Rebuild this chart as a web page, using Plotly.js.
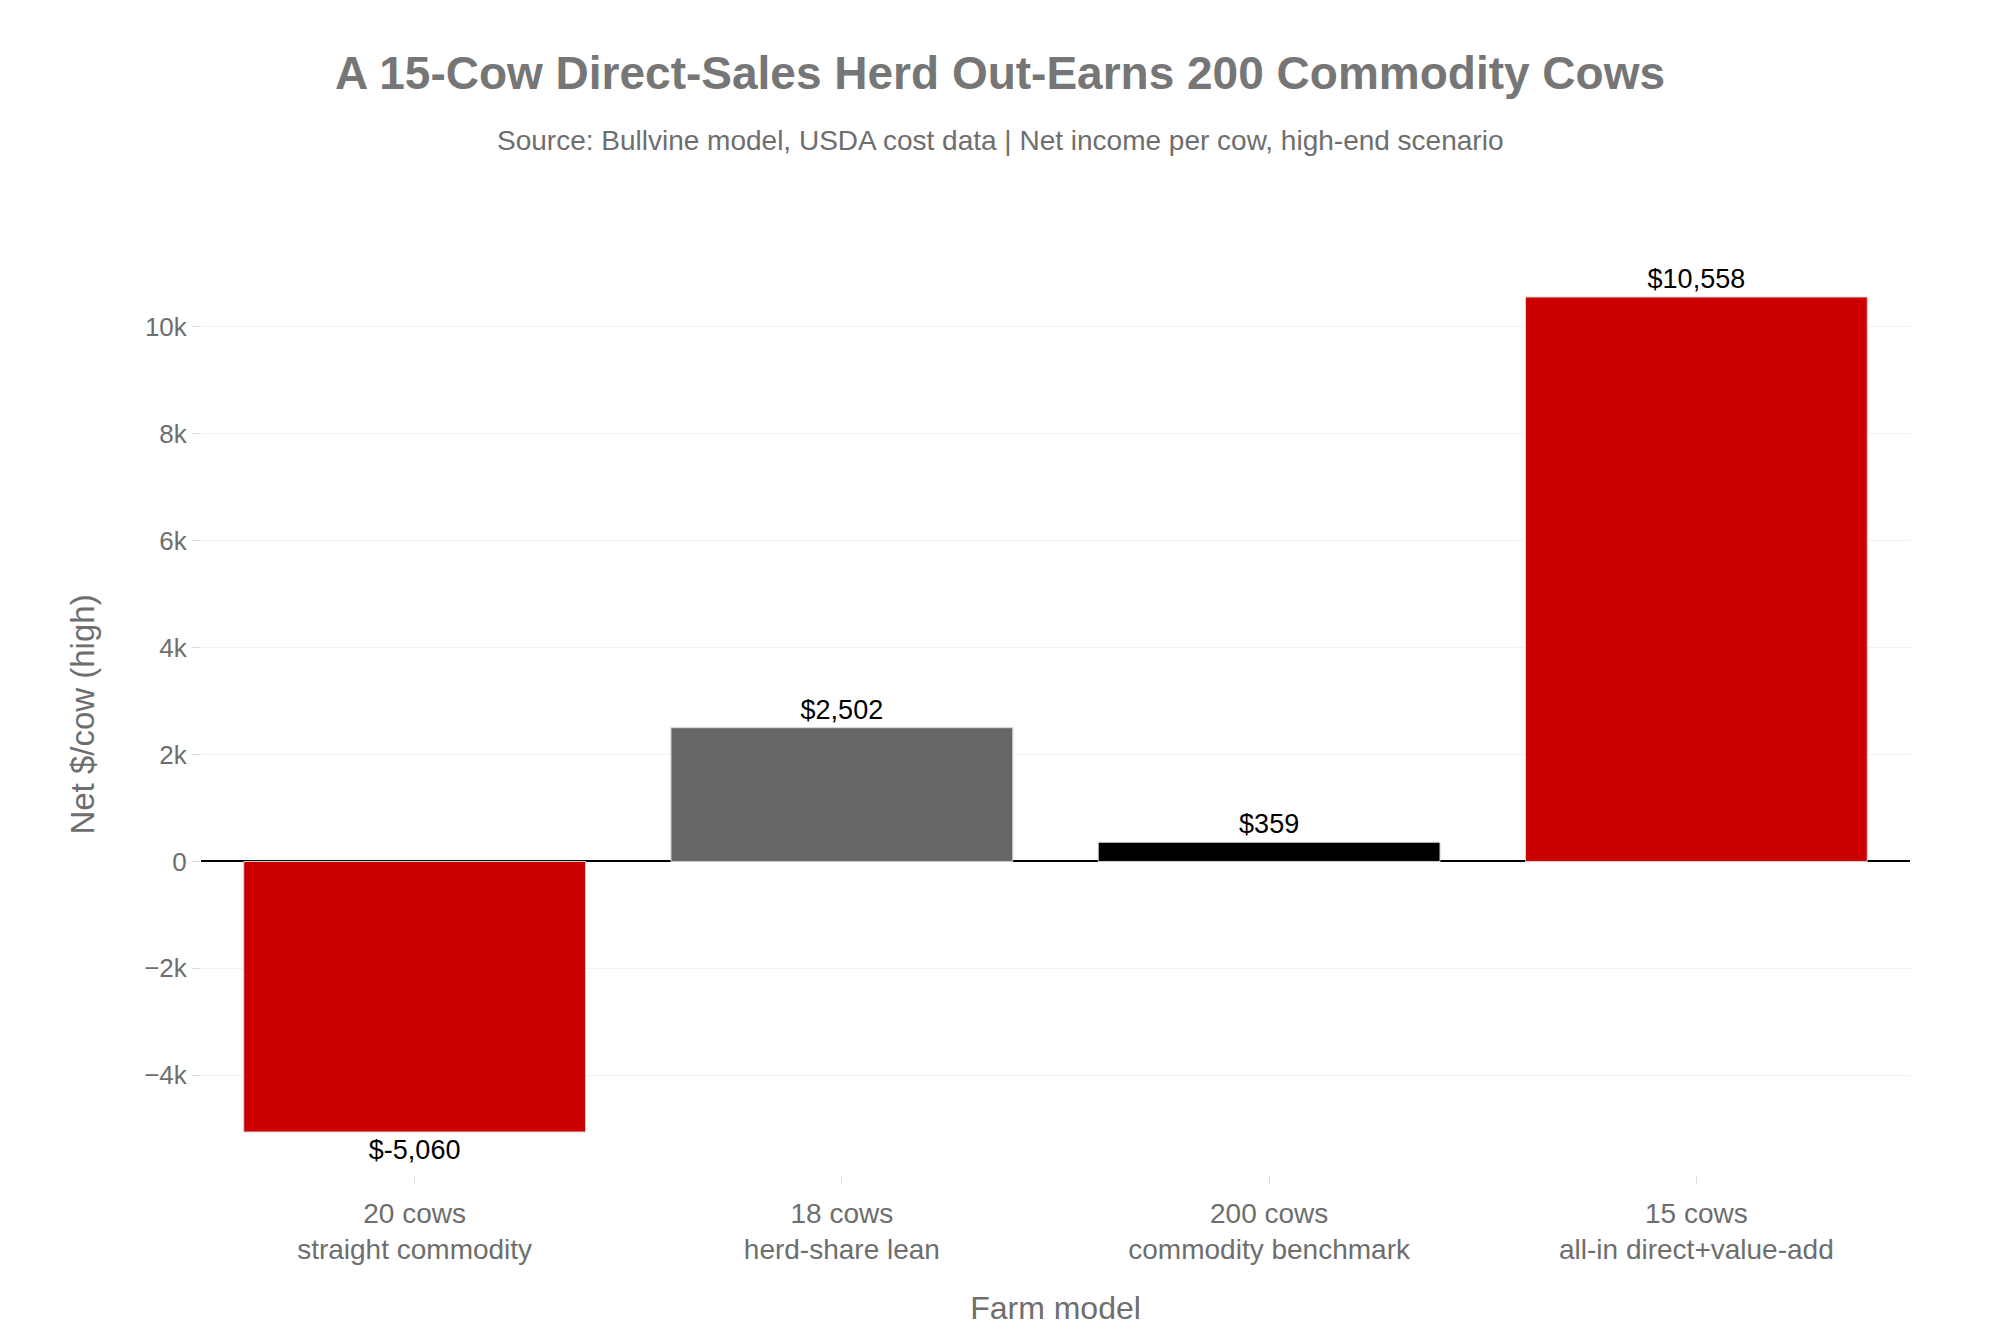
<!DOCTYPE html>
<html>
<head>
<meta charset="utf-8">
<script src="https://cdn.plot.ly/plotly-3.0.1.min.js"></script>
<style>
  html, body { margin: 0; padding: 0; background: #ffffff; }
  #chart { width: 2000px; height: 1333px; }
</style>
</head>
<body>
<div id="chart"></div>
<script>
// farm models and high-end net income per cow
var herds = ['20 cows', '18 cows', '200 cows', '15 cows'];
var models = ['straight commodity', 'herd-share lean', 'commodity benchmark', 'all-in direct+value-add'];
var netPerCow = [-5060, 2502, 359, 10558];
var barColors = ['#cc0000', '#666666', '#000000', '#cc0000'];

var labels = herds.map(function(h, i) { return h + '<br>' + models[i]; });

var fontFamily = '"Liberation Sans", Arial, Helvetica, sans-serif';

var trace =
{
    type: 'bar',
    x: labels,
    y: netPerCow,
    marker:
    {
        color: barColors,
        line: { color: '#d4d4d4', width: 1 }
    },
    texttemplate: '$%{y:,}',
    textposition: 'outside',
    cliponaxis: false,
    textfont: { family: fontFamily, size: 27, color: '#000000' },
    hoverinfo: 'x+y'
};

var layout =
{
    width: 2000,
    height: 1333,
    paper_bgcolor: '#ffffff',
    plot_bgcolor: '#ffffff',
    font: { family: fontFamily, color: '#6e6e6e' },
    showlegend: false,
    bargap: 0.2,
    margin: { l: 201, r: 90, t: 254, b: 158 },
    title:
    {
        text: '<b>A 15-Cow Direct-Sales Herd Out-Earns 200 Commodity Cows</b>',
        font: { family: fontFamily, size: 46, color: '#767676' },
        x: 0.5,
        xref: 'container',
        xanchor: 'center',
        y: 1 - 73 / 1333,
        yref: 'container',
        yanchor: 'middle'
    },
    annotations:
    [
        {
            text: 'Source: Bullvine model, USDA cost data | Net income per cow, high-end scenario',
            xref: 'paper',
            yref: 'paper',
            x: 0.4675,
            y: 1.1227,
            xanchor: 'center',
            yanchor: 'middle',
            showarrow: false,
            font: { family: fontFamily, size: 28, color: '#6e6e6e' }
        }
    ],
    xaxis:
    {
        title: { text: 'Farm model', font: { size: 32, color: '#6e6e6e' }, standoff: 32 },
        tickfont: { size: 28, color: '#6e6e6e' },
        ticks: 'outside',
        ticklen: 8,
        tickcolor: '#dddddd',
        ticklabelstandoff: 5,
        showgrid: false,
        showline: false,
        zeroline: false
    },
    yaxis:
    {
        title: { text: 'Net $/cow (high)', font: { size: 33, color: '#6e6e6e' }, standoff: 39 },
        tickfont: { size: 26, color: '#6e6e6e' },
        range: [-5865, 11363],
        dtick: 2000,
        ticks: 'outside',
        ticklen: 8,
        tickcolor: '#dddddd',
        showgrid: true,
        gridcolor: '#f1f1f1',
        gridwidth: 1,
        zeroline: true,
        zerolinecolor: '#000000',
        zerolinewidth: 2,
        showline: false
    }
};

Plotly.newPlot('chart', [trace], layout, { displayModeBar: false, responsive: false });
</script>
</body>
</html>
